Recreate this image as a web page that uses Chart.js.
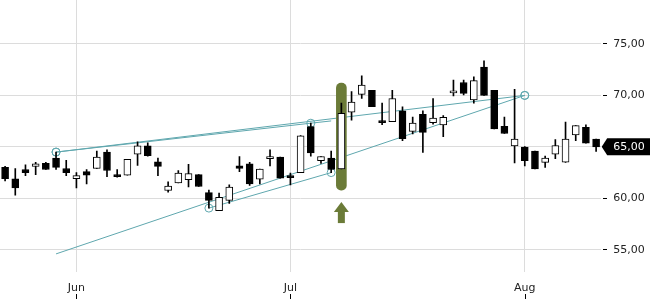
<!DOCTYPE html>
<html><head><meta charset="utf-8">
<script src="https://cdn.jsdelivr.net/npm/chart.js@4"></script>
<style>html,body{margin:0;padding:0;background:#fff;overflow:hidden}#wrap{width:650px;height:300px;position:relative}</style>
</head><body><div id="wrap"><canvas id="c" width="650" height="300"></canvas></div>
<script>
// ---- data ----
const dates = [
 '2014-05-22','2014-05-23','2014-05-26','2014-05-27','2014-05-28','2014-05-29','2014-05-30',
 '2014-06-02','2014-06-03','2014-06-04','2014-06-05','2014-06-06','2014-06-09','2014-06-10','2014-06-11','2014-06-12','2014-06-13',
 '2014-06-16','2014-06-17','2014-06-18','2014-06-19','2014-06-20','2014-06-23','2014-06-24','2014-06-25','2014-06-26','2014-06-27','2014-06-30',
 '2014-07-01','2014-07-02','2014-07-03','2014-07-04','2014-07-07','2014-07-08','2014-07-09','2014-07-10','2014-07-11',
 '2014-07-14','2014-07-15','2014-07-16','2014-07-17','2014-07-18','2014-07-21','2014-07-22','2014-07-23','2014-07-24','2014-07-25',
 '2014-07-28','2014-07-29','2014-07-30','2014-07-31',
 '2014-08-01','2014-08-04','2014-08-05','2014-08-06','2014-08-07','2014-08-08','2014-08-11','2014-08-12'
];
const opens  = [63.0,61.9,62.8,63.1,63.4,63.9,62.9,61.9,62.6,62.9,64.5,62.3,62.25,64.3,65.1,63.55,60.76,61.5,61.8,62.3,
  60.55,58.8,59.8,63.15,63.35,61.86,63.85,64.0,62.2,62.5,66.97,63.67,63.9,62.85,68.37,70.1,70.5,67.5,67.45,68.5,
  66.5,68.17,67.36,67.14,70.25,71.25,69.56,72.75,70.5,67.0,65.1,64.97,64.6,63.5,64.3,63.52,66.17,66.9,65.75];
const highs  = [63.1,62.9,63.25,63.5,63.5,64.49,63.7,62.5,62.8,64.6,64.7,62.8,63.8,65.5,65.4,63.9,61.6,62.7,63.3,62.3,
  60.8,60.5,61.3,64.05,63.5,62.85,64.7,64.0,62.45,66.1,67.3,64.06,64.6,69.25,70.37,71.9,70.5,69.25,70.5,68.9,
  67.9,68.5,69.7,68.04,71.5,71.5,71.8,73.35,70.5,67.9,70.6,65.03,64.6,64.1,65.7,67.4,67.07,67.14,65.75];
const lows   = [61.7,60.3,62.2,62.3,62.8,62.8,62.2,61.0,61.4,62.9,62.1,62.05,62.25,63.2,64.1,62.2,60.6,61.5,61.1,61.15,
  59.05,58.8,59.5,62.6,61.25,61.4,63.15,61.95,61.3,62.5,64.1,63.4,62.5,62.85,67.6,69.7,68.9,67.15,67.45,65.6,
  66.25,64.45,67.2,66.0,69.95,70.05,69.25,70.0,66.75,66.3,63.45,63.15,62.85,63.0,63.85,63.5,65.6,65.36,64.55];
const closes = [61.9,61.0,62.5,63.35,62.8,63.0,62.5,62.2,62.25,64.0,62.7,62.1,63.8,65.1,64.15,63.1,61.2,62.45,62.4,61.15,
  59.8,60.1,61.1,62.9,61.4,62.84,64.05,61.96,62.0,66.07,64.4,64.06,62.8,68.27,69.34,71.0,68.9,67.35,69.7,65.8,
  67.3,66.4,67.8,67.88,70.4,70.2,71.44,70.0,66.75,66.3,65.75,63.67,62.85,63.9,65.13,65.75,67.07,65.36,65.0];
const yTicks = [55, 60, 65, 70, 75];
const monthNames = ['Jan','Feb','Mar','Apr','May','Jun','Jul','Aug','Sep','Oct','Nov','Dec'];
// highlighted candle (index, band low, band high)
const highlightIndex = 33;
const highlightBand = [60.8, 71.2];
// trend lines: candle index, price, marker
const trendUpperShort = [{i:5, v:64.49, m:true}, {i:30, v:67.3, m:true}, {i:32, v:67.52, m:false}];
const trendUpperLong  = [{i:5, v:64.49, m:true}, {i:51, v:70.0, m:true}];
const trendLowerLong  = [{i:5, v:54.6, m:false}, {i:51, v:70.0, m:true}];
const trendLowerShort = [{i:20, v:59.05, m:true}, {i:32, v:62.5, m:true}];

// ---- styling ----
const TEAL = '#5fa7ae';
const OLIVE = '#6b7b38';
const GRID = '#dcdcdc';
const TXT = '#222';
const FONT = {family:'DejaVu Sans', size:11};
Chart.defaults.font.family = 'DejaVu Sans';

const idx = dates.map((d, i) => i);
const monthStarts = idx.filter(i => i > 0 && dates[i].slice(5,7) !== dates[i-1].slice(5,7));
const fmt = v => v.toFixed(2).replace('.', ',');

const bodyData = idx.map(i => ({x:i, y:[Math.min(opens[i], closes[i]), Math.max(opens[i], closes[i])]}));
const wickData = idx.map(i => ({x:i, y:[lows[i], highs[i]]}));
const bodyColors = idx.map(i => closes[i] >= opens[i] ? '#ffffff' : '#000000');

function trendDs(pts, order) {
  return {
    type:'line', order,
    data: pts.map(p => ({x:p.i, y:p.v})),
    borderColor: TEAL, borderWidth: 1, tension: 0, fill: false,
    pointRadius: pts.map(p => p.m ? 4 : 0),
    pointHoverRadius: pts.map(p => p.m ? 4 : 0),
    pointBorderColor: TEAL, pointBorderWidth: 1,
    pointBackgroundColor: 'rgba(0,0,0,0)'
  };
}

const deco = {
  id: 'deco',
  afterDraw(chart) {
    const {ctx, scales:{x, y}} = chart;
    ctx.save();
    // x tick marks below labels
    ctx.strokeStyle = '#000'; ctx.lineWidth = 1;
    x.ticks.forEach(t => {
      const px = Math.round(x.getPixelForValue(t.value)) + 0.5;
      ctx.beginPath(); ctx.moveTo(px, x.bottom - 1); ctx.lineTo(px, x.bottom + 4); ctx.stroke();
    });
    // arrow under highlighted candle
    const ax = x.getPixelForValue(highlightIndex);
    const at = y.getPixelForValue(highlightBand[0]) + 12;
    ctx.fillStyle = OLIVE;
    ctx.beginPath();
    ctx.moveTo(ax, at); ctx.lineTo(ax + 7.5, at + 10); ctx.lineTo(ax - 7.5, at + 10); ctx.closePath(); ctx.fill();
    ctx.fillRect(ax - 3.5, at + 9.5, 7, 11.5);
    // last price label
    const last = closes[closes.length - 1];
    const py = y.getPixelForValue(last);
    const L = y.left;
    ctx.fillStyle = '#000';
    ctx.beginPath();
    ctx.moveTo(L + 0.5, py);
    ctx.lineTo(L + 6, py - 8.5);
    ctx.lineTo(chart.width, py - 8.5);
    ctx.lineTo(chart.width, py + 8.5);
    ctx.lineTo(L + 6, py + 8.5);
    ctx.closePath(); ctx.fill();
    ctx.fillStyle = '#fff';
    ctx.font = '11px "DejaVu Sans"';
    ctx.textBaseline = 'middle'; ctx.textAlign = 'left';
    ctx.fillText(fmt(last), L + 12, py + 0.5);
    ctx.restore();
  }
};

new Chart(document.getElementById('c'), {
  type: 'bar',
  data: {
    datasets: [
      {type:'bar', order:0, data: bodyData, backgroundColor: bodyColors, borderColor:'#000', borderWidth:1,
       borderSkipped:false, barThickness:7, minBarLength:2, grouped:false},
      {type:'bar', order:1, data: wickData, backgroundColor:'#000', borderWidth:0, barThickness:1, grouped:false},
      {type:'bar', order:2, data: [{x:highlightIndex, y:highlightBand}], backgroundColor: OLIVE, borderWidth:0,
       barThickness:10, borderRadius:5, borderSkipped:false, grouped:false},
      trendDs(trendUpperShort, 3),
      trendDs(trendUpperLong, 4),
      trendDs(trendLowerLong, 5),
      trendDs(trendLowerShort, 6)
    ]
  },
  options: {
    responsive: false, animation: false, devicePixelRatio: 1,
    layout: {autoPadding:false, padding: {left:0, right:0, top:0, bottom:5}},
    plugins: {legend:{display:false}, tooltip:{enabled:false}},
    scales: {
      x: {
        type:'linear', min:-0.5, max:58.5, offset:false,
        afterBuildTicks: s => { s.ticks = monthStarts.map(i => ({value:i})); },
        afterFit: s => { s.paddingLeft = 0; s.paddingRight = 0; s.height = 23.2; },
        ticks: {autoSkip:false, maxRotation:0, padding:10, color:TXT, font:FONT,
                callback: v => monthNames[parseInt(dates[Math.round(v)].slice(5,7), 10) - 1]},
        grid: {color:GRID, drawTicks:false, offset:false},
        border: {display:false}
      },
      y: {
        position:'right', min:52.86, max:79.27,
        afterBuildTicks: s => { s.ticks = yTicks.map(v => ({value:v})); },
        afterFit: s => { s.width = 48.8; s.paddingTop = 0; s.paddingBottom = 0; },
        ticks: {padding:4, color:TXT, font:FONT, callback: v => fmt(v)},
        grid: {color:GRID, drawTicks:true, tickLength:8, tickColor:'#000', tickWidth:1, tickBorderDash:[0,2,4,20]},
        border: {display:false}
      }
    }
  },
  plugins: [deco]
});
</script>
</body></html>
